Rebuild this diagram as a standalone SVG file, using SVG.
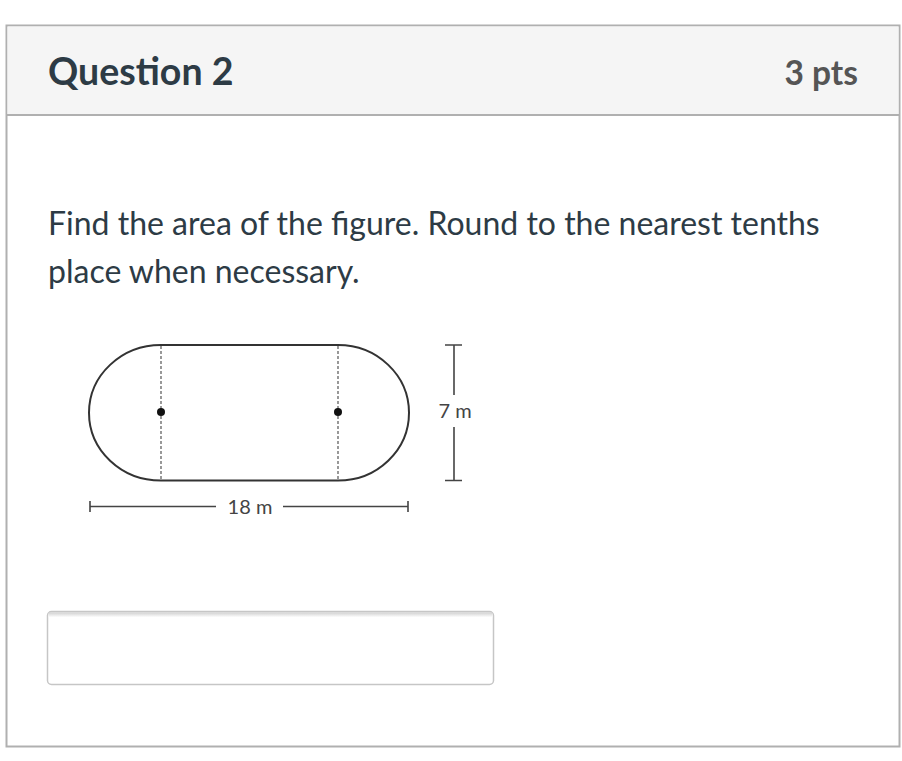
<svg xmlns="http://www.w3.org/2000/svg" width="902" height="761" viewBox="0 0 902 761">
<style>
.hdr{font-family:Lato,"Liberation Sans",sans-serif;font-weight:bold;}
.body{font-family:Lato,"Liberation Sans",sans-serif;fill:#2d3b45;font-size:32px;}
.fig{fill:none;stroke:#333;stroke-width:2;}
.dash{stroke:#555;stroke-width:1.2;stroke-dasharray:3 2;fill:none;}
.dim{stroke:#444;stroke-width:1.6;fill:none;}
.lbl{font-family:Lato,"Liberation Sans",sans-serif;font-size:20px;fill:#444;}
</style>
<defs>
<linearGradient id="sh" x1="0" y1="0" x2="0" y2="1">
<stop offset="0" stop-color="#d0d0d0"/>
<stop offset="1" stop-color="#ffffff"/>
</linearGradient>
</defs>
<rect x="0" y="0" width="902" height="761" fill="#ffffff"/>
<g id="frame">
<rect x="6.5" y="25.5" width="893" height="721" fill="#ffffff" stroke="#b0b0b0" stroke-width="2"/>
<rect x="7.5" y="26.5" width="891" height="88" fill="#f5f5f5"/>
<line x1="6.5" y1="115" x2="899.5" y2="115" stroke="#b0b0b0" stroke-width="2"/>
</g>
<g id="header">
<text class="hdr" x="48" y="85" font-size="37.5" fill="#2d3b45">Question 2</text>
<text class="hdr" x="858" y="85" font-size="33.5" fill="#555555" text-anchor="end">3 pts</text>
</g>
<g id="question">
<text class="body" x="48" y="235">Find the area of the figure. Round to the nearest tenths</text>
<text class="body" x="48" y="283">place when necessary.</text>
</g>
<g id="figure">
<path class="fig" d="M161,345 L338,345 A71,67.8 0 0 1 338,480.6 L161,480.6 A72,67.8 0 0 1 161,345 Z"/>
<line class="dash" x1="161" y1="346" x2="161" y2="480"/>
<line class="dash" x1="338" y1="346" x2="338" y2="480"/>
<circle cx="161" cy="412" r="4" fill="#111"/>
<circle cx="338" cy="412" r="4" fill="#111"/>
</g>
<g id="dimensions">
<path class="dim" d="M454,345 V395 M454,427 V480.5 M445,345 H462 M445,480.5 H462"/>
<text class="lbl" x="455" y="418" text-anchor="middle">7 m</text>
<path class="dim" d="M90,506.5 H216 M283,506.5 H408 M90,501 V512 M408,501 V512"/>
<text class="lbl" x="250" y="514" text-anchor="middle">18 m</text>
</g>
<g id="answer">
<rect x="47.5" y="611.5" width="446" height="73" rx="4" fill="#ffffff" stroke="#c6c6c6" stroke-width="1.5"/>
<rect x="48.5" y="612.3" width="444" height="5" fill="url(#sh)"/>
</g>
</svg>
